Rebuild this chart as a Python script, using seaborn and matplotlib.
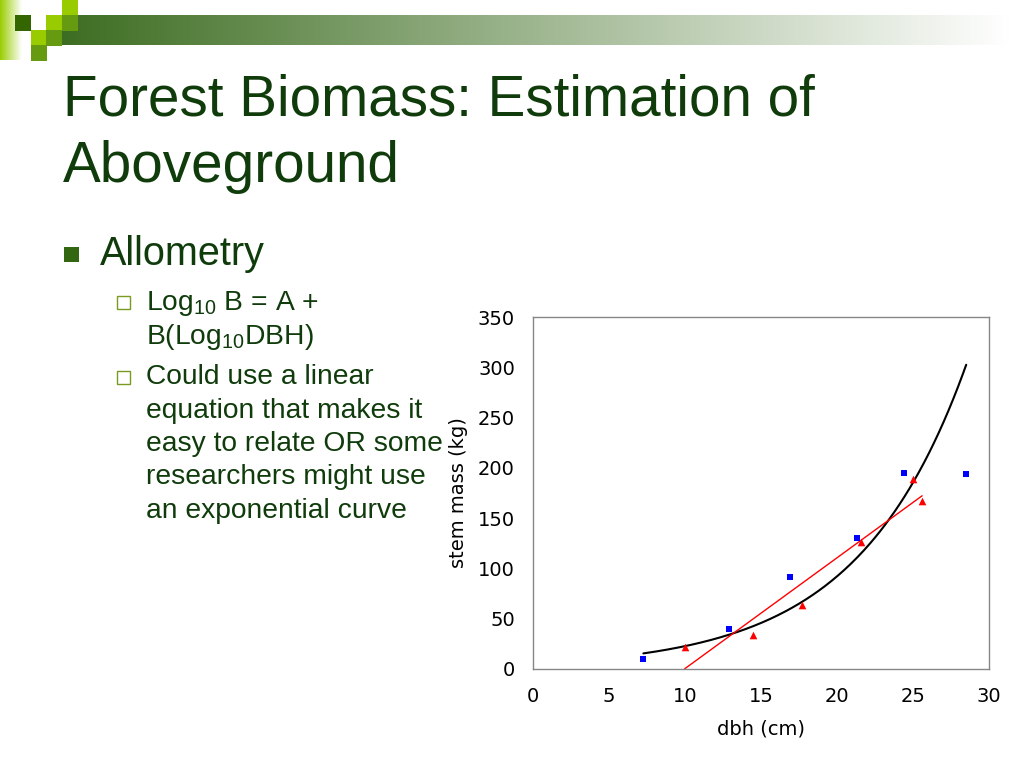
import numpy as np
import pandas as pd
import matplotlib
matplotlib.use("Agg")
import matplotlib.pyplot as plt
from matplotlib.patches import Rectangle
from matplotlib.colors import to_rgb
import seaborn as sns

# data
blue_dbh = [7.26, 12.9, 16.9, 21.3, 24.4, 28.5]
blue_mass = [10.2, 39.5, 91.0, 130.0, 194.5, 194.0]
red_dbh = [9.98, 14.5, 17.7, 21.6, 25.0, 25.6]
red_mass = [22.0, 34.0, 64.0, 126.0, 188.5, 167.0]
x_ticks = [0, 5, 10, 15, 20, 25, 30]
y_ticks = [0, 50, 100, 150, 200, 250, 300, 350]

title_lines = ["Forest Biomass: Estimation of", "Aboveground"]
bullet = "Allometry"
sub1 = ["Log$_{10}$ B = A +", "B(Log$_{10}$DBH)"]
sub2 = ["Could use a linear", "equation that makes it", "easy to relate OR some",
        "researchers might use", "an exponential curve"]

sns.set_style("white")
plt.rcParams["font.family"] = ["Liberation Sans", "DejaVu Sans"]
plt.rcParams["mathtext.default"] = "regular"

txt_col = "#103c0c"
lime = "#99cc00"
mid_green = "#669a10"
dark_green = "#336600"

fig = plt.figure(figsize=(10.24, 7.68), dpi=100)

# slide background, pixel coordinates
bg = fig.add_axes([0, 0, 1, 1])
bg.set_xlim(0, 1024)
bg.set_ylim(768, 0)
bg.axis("off")

# gradient bar at the top
n = 400
c0 = np.array(to_rgb("#3a6b1e"))
t = np.linspace(0, 1, n)[:, None]
bar = (c0 * (1 - t) + np.ones(3) * t)[None, :, :]
bg.imshow(bar, extent=(46, 1010, 45, 15), aspect="auto", interpolation="bilinear")
strip = (np.array(to_rgb(lime)) * (1 - t) + np.ones(3) * t)[None, :, :]
bg.imshow(strip, extent=(0, 22, 60, 0), aspect="auto", interpolation="bilinear")
squares = [(15, 15, dark_green), (62, 0, lime), (46, 15, lime), (62, 15, mid_green),
           (31, 30, lime), (46, 30, mid_green), (31, 45, mid_green)]
for sx, sy, sc in squares:
    bg.add_patch(Rectangle((sx, sy), 15.5, 15.5, color=sc, lw=0))
bg.set_xlim(0, 1024)
bg.set_ylim(768, 0)

# title and bullets
bg.text(63, 116, title_lines[0], fontsize=40.8, color=txt_col, va="baseline")
bg.text(63, 182, title_lines[1], fontsize=40.8, color=txt_col, va="baseline")
bg.add_patch(Rectangle((64, 247), 15, 15, color="#336611", lw=0))
bg.text(100, 265, bullet, fontsize=28.5, color=txt_col, va="baseline")
for i, line in enumerate(sub1):
    bg.text(146, 310 + i * 33.5, line, fontsize=20.3, color=txt_col, va="baseline")
for i, line in enumerate(sub2):
    bg.text(146, 384 + i * 33.5, line, fontsize=20.3, color=txt_col, va="baseline")
for by in [296, 371]:
    bg.add_patch(Rectangle((117, by), 12.5, 12.5, fill=False, ec="#7a9a20", lw=1.0))

# chart
ax = fig.add_axes([533 / 1024, 1 - 669 / 768, 456 / 1024, 352 / 768])
ax.set_facecolor("white")

# exponential trend of the squares, linear trend of the triangles
bx = np.array(blue_dbh)
k, c = np.polyfit(bx, np.log(blue_mass), 1)
xs = np.linspace(bx.min(), bx.max(), 200)
sns.lineplot(x=xs, y=np.exp(c + k * xs), color="black", linewidth=1.5, ax=ax, zorder=2)
sns.regplot(x=red_dbh, y=red_mass, scatter=False, ci=None, truncate=True,
            color="#ff0000", line_kws={"linewidth": 1.0, "zorder": 2}, ax=ax)

sns.scatterplot(x=blue_dbh, y=blue_mass, marker="s", color="#0000ff", s=20,
                linewidth=0, ax=ax, zorder=3)
sns.scatterplot(x=red_dbh, y=red_mass, marker="^", color="#ff0000", s=30,
                linewidth=0, ax=ax, zorder=3)

ax.set_xlim(0, 30)
ax.set_ylim(0, 350)
ax.set_xticks(x_ticks)
ax.set_yticks(y_ticks)
for s in ax.spines.values():
    s.set_visible(True)
    s.set_color("#878787")
    s.set_linewidth(1.0)
ax.tick_params(direction="in", length=4.5, width=1.0, color="#878787",
               labelsize=14, pad=13, labelcolor="black")
for lab in ax.get_xticklabels() + ax.get_yticklabels():
    lab.set_family("DejaVu Sans")
ax.set_xlabel("dbh (cm)", family="DejaVu Sans", fontsize=14, labelpad=10, color="black")
ax.set_ylabel("stem mass (kg)", family="DejaVu Sans", fontsize=14, labelpad=7, color="black")

fig.savefig("out.png", dpi=100)
